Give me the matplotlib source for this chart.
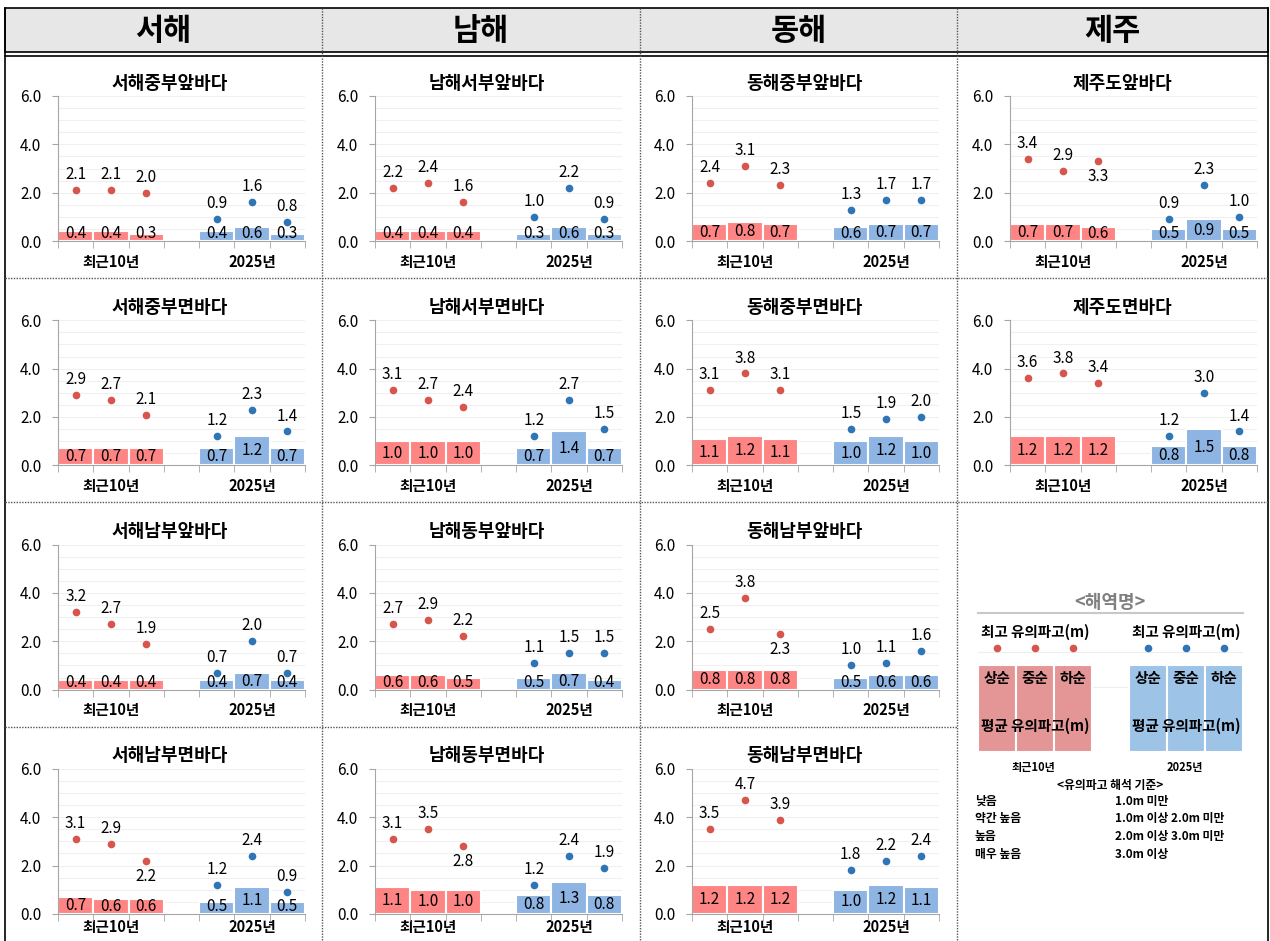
import matplotlib
matplotlib.use("Agg")
import matplotlib.pyplot as plt
from matplotlib.patches import Rectangle

plt.rcParams['font.family'] = ['Noto Sans CJK KR', 'DejaVu Sans']

# data
regions = ['서해', '남해', '동해', '제주']
sea_areas = [
    ['서해중부앞바다', '서해중부면바다', '서해남부앞바다', '서해남부면바다'],
    ['남해서부앞바다', '남해서부면바다', '남해동부앞바다', '남해동부면바다'],
    ['동해중부앞바다', '동해중부면바다', '동해남부앞바다', '동해남부면바다'],
    ['제주도앞바다', '제주도면바다'],
]
periods = ['최근10년', '2025년']
dekads = ['상순', '중순', '하순']

# 평균 유의파고 (최근10년)
avg_recent = [
    [[0.4, 0.4, 0.3], [0.7, 0.7, 0.7], [0.4, 0.4, 0.4], [0.7, 0.6, 0.6]],
    [[0.4, 0.4, 0.4], [1.0, 1.0, 1.0], [0.6, 0.6, 0.5], [1.1, 1.0, 1.0]],
    [[0.7, 0.8, 0.7], [1.1, 1.2, 1.1], [0.8, 0.8, 0.8], [1.2, 1.2, 1.2]],
    [[0.7, 0.7, 0.6], [1.2, 1.2, 1.2]],
]
# 최고 유의파고 (최근10년)
max_recent = [
    [[2.1, 2.1, 2.0], [2.9, 2.7, 2.1], [3.2, 2.7, 1.9], [3.1, 2.9, 2.2]],
    [[2.2, 2.4, 1.6], [3.1, 2.7, 2.4], [2.7, 2.9, 2.2], [3.1, 3.5, 2.8]],
    [[2.4, 3.1, 2.3], [3.1, 3.8, 3.1], [2.5, 3.8, 2.3], [3.5, 4.7, 3.9]],
    [[3.4, 2.9, 3.3], [3.6, 3.8, 3.4]],
]
# 평균 유의파고 (2025년)
avg_2025 = [
    [[0.4, 0.6, 0.3], [0.7, 1.2, 0.7], [0.4, 0.7, 0.4], [0.5, 1.1, 0.5]],
    [[0.3, 0.6, 0.3], [0.7, 1.4, 0.7], [0.5, 0.7, 0.4], [0.8, 1.3, 0.8]],
    [[0.6, 0.7, 0.7], [1.0, 1.2, 1.0], [0.5, 0.6, 0.6], [1.0, 1.2, 1.1]],
    [[0.5, 0.9, 0.5], [0.8, 1.5, 0.8]],
]
# 최고 유의파고 (2025년)
max_2025 = [
    [[0.9, 1.6, 0.8], [1.2, 2.3, 1.4], [0.7, 2.0, 0.7], [1.2, 2.4, 0.9]],
    [[1.0, 2.2, 0.9], [1.2, 2.7, 1.5], [1.1, 1.5, 1.5], [1.2, 2.4, 1.9]],
    [[1.3, 1.7, 1.7], [1.5, 1.9, 2.0], [1.0, 1.1, 1.6], [1.8, 2.2, 2.4]],
    [[0.9, 2.3, 1.0], [1.2, 3.0, 1.4]],
]
legend_avg = [1.0, 1.0, 1.0]
legend_max = [1.2, 1.2, 1.2]
criteria_labels = ['낮음', '약간 높음', '높음', '매우 높음']
criteria_ranges = ['1.0m 미만', '1.0m 이상 2.0m 미만', '2.0m 이상 3.0m 미만', '3.0m 이상']

# panels where the last red label sits under the dot
label_below = ['제주도앞바다', '동해남부앞바다', '남해동부면바다', '서해남부면바다']

RED_BAR = '#FF8585'
BLUE_BAR = '#8DB4E2'
RED_DOT = '#D6554D'
BLUE_DOT = '#2E75B6'
AXIS_GRAY = '#a6a6a6'

W, H = 1270, 941
fig = plt.figure(figsize=(12.7, 9.41), dpi=100)

# background layer in pixel coords
bg = fig.add_axes([0, 0, 1, 1], zorder=0)
bg.set_xlim(0, W)
bg.set_ylim(H, 0)
bg.axis('off')

col_edges = [5, 322, 640, 957, 1268]
bg.add_patch(Rectangle((5, 8), 1263, 44, facecolor='#e7e7e7', edgecolor='black', lw=1.2))
bg.plot([5, 1268], [56, 56], color='black', lw=1.2)
bg.plot([5, 5], [8, H], color='black', lw=1.2)
bg.plot([1268, 1268], [8, H], color='black', lw=1.2)
for x in col_edges[1:-1]:
    bg.plot([x, x], [8, H], color='#555555', lw=1, ls=(0, (1, 1)))
for y, x_end in [(278, 1268), (502, 1268), (727, 957)]:
    bg.plot([5, x_end], [y, y], color='#555555', lw=1, ls=(0, (1, 1)))
for i, name in enumerate(regions):
    bg.text((col_edges[i] + col_edges[i + 1]) / 2, 31, name, ha='center', va='center',
            fontsize=22, fontweight='bold')

col_left = [58, 375, 692, 1010]
ax_w = 247
ax_h = 145
row_step = 224.3

for c, names in enumerate(sea_areas):
    for r, name in enumerate(names):
        y0 = 241 + r * row_step
        left = col_left[c]
        ax = fig.add_axes([left / W, 1 - y0 / H, ax_w / W, ax_h / H], zorder=1)
        ax.patch.set_alpha(0)
        ax.set_xlim(-0.5, 6.5)
        ax.set_ylim(0, 6)
        for g in [0.5 * k for k in range(1, 13)]:
            ax.axhline(g, color='#f0f0f0', lw=0.8, zorder=0)

        ax.bar([0, 1, 2], avg_recent[c][r], width=1, color=RED_BAR, edgecolor='white', lw=1.5, zorder=2)
        ax.bar([4, 5, 6], avg_2025[c][r], width=1, color=BLUE_BAR, edgecolor='white', lw=1.5, zorder=2)
        ax.plot([0, 1, 2], max_recent[c][r], 'o', color=RED_DOT, ms=4.5, zorder=3)
        ax.plot([4, 5, 6], max_2025[c][r], 'o', color=BLUE_DOT, ms=4.5, zorder=3)

        for xs, vals in [([0, 1, 2], avg_recent[c][r]), ([4, 5, 6], avg_2025[c][r])]:
            for x, v in zip(xs, vals):
                ax.text(x, max(v / 2, 0.3), f'{v:.1f}', ha='center', va='center', fontsize=11, zorder=4)
        for xs, vals, is_red in [([0, 1, 2], max_recent[c][r], True), ([4, 5, 6], max_2025[c][r], False)]:
            for i, (x, v) in enumerate(zip(xs, vals)):
                if is_red and i == 2 and name in label_below:
                    ax.annotate(f'{v:.1f}', (x, v), xytext=(0, -5), textcoords='offset points',
                                ha='center', va='top', fontsize=11, zorder=4)
                else:
                    ax.annotate(f'{v:.1f}', (x, v), xytext=(0, 5), textcoords='offset points',
                                ha='center', va='bottom', fontsize=11, zorder=4)

        ax.set_yticks([0, 2, 4, 6])
        ax.set_yticklabels([f'{v:.1f}' for v in [0, 2, 4, 6]], fontsize=11)
        ax.tick_params(axis='y', length=4, color=AXIS_GRAY, pad=8)
        ax.set_xticks([1, 5])
        ax.set_xticklabels(periods, fontsize=10.5, fontweight='bold')
        ax.set_xticks([-0.5, 0.5, 1.5, 2.5, 3.5, 4.5, 5.5, 6.5], minor=True)
        ax.tick_params(axis='x', which='major', length=0, pad=4 if r == 3 else 9)
        ax.tick_params(axis='x', which='minor', length=5, color=AXIS_GRAY)
        for s in ['top', 'right']:
            ax.spines[s].set_visible(False)
        ax.spines['left'].set_color(AXIS_GRAY)
        ax.spines['bottom'].set_color(AXIS_GRAY)

        bg.text(left + 112, y0 - ax_h - 13, name, ha='center', va='center',
                fontsize=13, fontweight='bold')

# legend block
lg_left, lg_top, lg_bottom, lg_right = 978, 613, 752, 1243
lg = fig.add_axes([lg_left / W, 1 - lg_bottom / H, (lg_right - lg_left) / W, (lg_bottom - lg_top) / H], zorder=1)
lg.patch.set_alpha(0)
lg.set_xlim(-0.5, 6.5)
lg.set_ylim(0, 1.6)
for g in [0.75, 1.15]:
    lg.axhline(g, color='#eeeeee', lw=0.8, zorder=0)
lg.bar([0, 1, 2], legend_avg, width=1, color='#E49595', edgecolor='white', lw=1.5, zorder=2)
lg.bar([4, 5, 6], legend_avg, width=1, color='#9DC3E6', edgecolor='white', lw=1.5, zorder=2)
lg.plot([0, 1, 2], legend_max, 'o', color=RED_DOT, ms=4.5, zorder=3)
lg.plot([4, 5, 6], legend_max, 'o', color=BLUE_DOT, ms=4.5, zorder=3)
for xs in [[0, 1, 2], [4, 5, 6]]:
    for x, d in zip(xs, dekads):
        lg.text(x, 0.85, d, ha='center', va='center', fontsize=10.5, fontweight='bold', zorder=4)
    lg.text(xs[1], 0.3, '평균 유의파고(m)', ha='center', va='center', fontsize=10.5, fontweight='bold', zorder=4)
    lg.text(xs[1], 1.38, '최고 유의파고(m)', ha='center', va='center', fontsize=10.5, fontweight='bold', zorder=4)
lg.set_xticks([])
lg.set_yticks([])
for s in ['left', 'right', 'bottom']:
    lg.spines[s].set_visible(False)
lg.spines['top'].set_color('#c8c8c8')
lg.spines['top'].set_linewidth(1.5)

bg.text(1110, 602, '<해역명>', ha='center', va='center', fontsize=13, fontweight='bold', color='#7f7f7f')
bg.text(1033, 767, periods[0], ha='center', va='center', fontsize=8, fontweight='bold')
bg.text(1185, 767, periods[1], ha='center', va='center', fontsize=8, fontweight='bold')
bg.text(1110, 785, '<유의파고 해석 기준>', ha='center', va='center', fontsize=8.5, fontweight='bold')
for i, (lab, rng) in enumerate(zip(criteria_labels, criteria_ranges)):
    y = 801 + i * 17.7
    bg.text(975, y, lab, ha='left', va='center', fontsize=8.5, fontweight='bold')
    bg.text(1115, y, rng, ha='left', va='center', fontsize=8.5, fontweight='bold')

fig.savefig('out.png', dpi=100)
